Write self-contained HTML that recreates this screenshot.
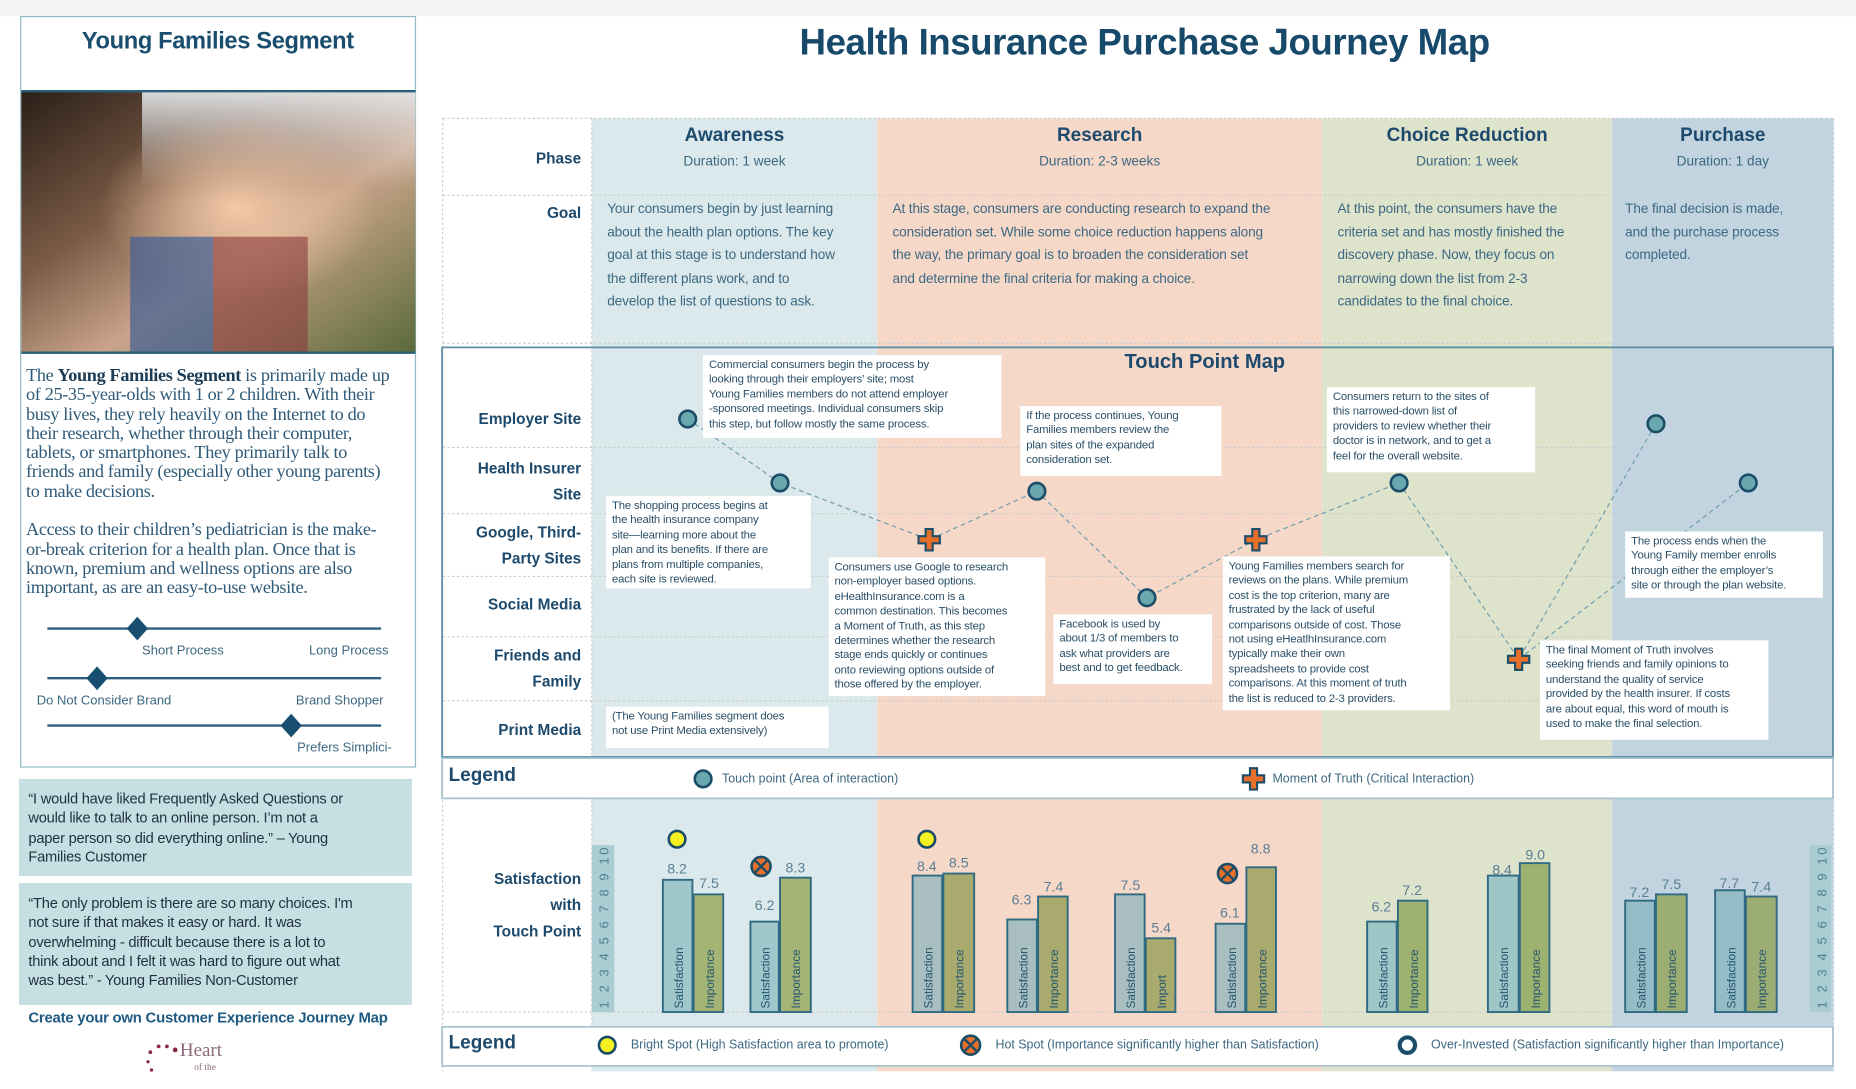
<!DOCTYPE html>
<html><head><meta charset="utf-8"><style>
*{margin:0;padding:0;box-sizing:border-box}
html,body{width:1856px;height:1088px;overflow:hidden;background:#fff}
#w{position:absolute;left:0;top:0;width:1568px;height:920px;transform:scale(1.18367,1.18367);transform-origin:0 0;font-family:"Liberation Sans",sans-serif}
.a{position:absolute;white-space:nowrap}
.lab{position:absolute;right:1077px;text-align:right;font-weight:bold;font-size:13px;color:#1d4a6c;line-height:22px}
.co{position:absolute;background:#fff;font-size:9.6px;line-height:12.4px;color:#2a4f68;padding:3px 5px;white-space:nowrap;letter-spacing:-0.15px}
.ph{position:absolute;text-align:center;color:#1d4a6c}
.ph b{display:block;font-size:16px;margin-top:6px}
.ph span{display:block;font-size:11.5px;color:#3c6882;margin-top:7px}
.goal{position:absolute;font-size:11.5px;line-height:19.5px;color:#3c6882;white-space:nowrap;letter-spacing:-0.1px}
.q{position:absolute;background:#c6dfe2;font-size:12.4px;line-height:16.3px;color:#1f3040;padding:8px 8px;white-space:nowrap;letter-spacing:-0.2px}
.sl{position:absolute;font-size:11px;color:#3c6882}
</style></head><body><div id="w">
<svg width="1568" height="920" style="position:absolute;left:0;top:0">
<defs>
<g id="cr"><path d="M-3,-9h6v6h6v6h-6v6h-6v-6h-6v-6h6z" fill="#e6702a" stroke="#1b4d69" stroke-width="1.8"/></g>
<linearGradient id="ph1" x1="0" y1="0" x2="1" y2="1"><stop offset="0" stop-color="#2a1f18"/><stop offset="0.35" stop-color="#7a5a45"/><stop offset="0.6" stop-color="#c9a48a"/><stop offset="1" stop-color="#5a6a3a"/></linearGradient>
<radialGradient id="ph2" cx="0.55" cy="0.45" r="0.35"><stop offset="0" stop-color="#f2c9a8"/><stop offset="1" stop-color="#f2c9a8" stop-opacity="0"/></radialGradient>
<linearGradient id="ph3" x1="0" y1="0" x2="0" y2="1"><stop offset="0" stop-color="#e8ecef" stop-opacity="0.9"/><stop offset="1" stop-color="#e8ecef" stop-opacity="0"/></linearGradient>
</defs>
<rect x="0" y="0" width="1568" height="14" fill="#f4f5f6"/>
<rect x="17.5" y="14" width="333.5" height="634" fill="none" stroke="#8fbac4" stroke-width="1"/>
<rect x="18" y="77" width="333" height="221" fill="url(#ph1)"/>
<rect x="120" y="77" width="231" height="80" fill="url(#ph3)"/>
<rect x="18" y="77" width="333" height="221" fill="url(#ph2)"/>
<rect x="110" y="200" width="70" height="98" fill="#3e5f96" opacity="0.7"/>
<rect x="180" y="200" width="80" height="98" fill="#8a3a3a" opacity="0.6"/>
<line x1="18" y1="77" x2="351" y2="77" stroke="#2a5f78" stroke-width="2"/>
<line x1="18" y1="298" x2="351" y2="298" stroke="#2a5f78" stroke-width="2"/>
<g stroke="#2c5f7e" stroke-width="2"><line x1="40" y1="531" x2="322" y2="531"/><line x1="40" y1="573" x2="322" y2="573"/><line x1="40" y1="613" x2="322" y2="613"/></g>
<g fill="#184f70"><polygon points="116,521 125,531 116,541 107,531"/><polygon points="82,563 91,573 82,583 73,573"/><polygon points="246,603 255,613 246,623 237,613"/></g>
<rect x="16" y="658" width="332" height="82" fill="#c6dfe2"/>
<rect x="16" y="746" width="332" height="103" fill="#c6dfe2"/>
<rect x="500" y="100" width="241" height="805" fill="#dbe9ec"/>
<rect x="741" y="100" width="376" height="805" fill="#f6d8c8"/>
<rect x="1117" y="100" width="245" height="805" fill="#dee3cc"/>
<rect x="1362" y="100" width="187" height="805" fill="#c1d4df"/>
<g stroke="#c9cccf" stroke-width="1" stroke-dasharray="2,2" fill="none">
<line x1="374" y1="100" x2="1549" y2="100"/><line x1="374" y1="165" x2="1549" y2="165"/><line x1="374" y1="290" x2="1549" y2="290"/>
<line x1="374" y1="378" x2="1549" y2="378"/><line x1="374" y1="434" x2="1549" y2="434"/><line x1="374" y1="487" x2="1549" y2="487"/><line x1="374" y1="538" x2="1549" y2="538"/><line x1="374" y1="592" x2="1549" y2="592"/>
<line x1="374" y1="855" x2="1549" y2="855"/>
<line x1="374" y1="100" x2="374" y2="905"/><line x1="500" y1="100" x2="500" y2="905"/><line x1="1549" y1="100" x2="1549" y2="905"/>
</g>
<rect x="373.5" y="293.5" width="1175" height="346" fill="none" stroke="#5c8ea6" stroke-width="1.5"/>
<rect x="373.5" y="640.5" width="1175" height="34" fill="#fff" stroke="#a9c3d0" stroke-width="1.5"/>
<rect x="373.5" y="867.5" width="1175" height="33" fill="#fff" stroke="#a9c3d0" stroke-width="1.5"/>
<polyline points="581,354 659,408 785,456 876,415 969,505 1061,456 1182,408 1283,557 1399,358" fill="none" stroke="#6e9faa" stroke-width="1" stroke-dasharray="4,3"/>
<line x1="1283" y1="557" x2="1477" y2="408" stroke="#6e9faa" stroke-width="1" stroke-dasharray="4,3"/>
<g fill="#6aa8b0" stroke="#1b4d69" stroke-width="2.2">
<circle cx="581" cy="354" r="7"/><circle cx="659" cy="408" r="7"/><circle cx="876" cy="415" r="7"/><circle cx="969" cy="505" r="7"/><circle cx="1182" cy="408" r="7"/><circle cx="1399" cy="358" r="7"/><circle cx="1477" cy="408" r="7"/>
<circle cx="594" cy="658" r="7"/>
</g>
<use href="#cr" x="785" y="456"/><use href="#cr" x="1061" y="456"/><use href="#cr" x="1283" y="557"/><use href="#cr" x="1059" y="658"/>
<rect x="500" y="714" width="19" height="141" fill="#a9cdd3"/>
<rect x="1529" y="714" width="18" height="141" fill="#a9cdd3"/>
<g stroke="#2f6a82" stroke-width="1.6">
<rect x="560" y="743.3" width="25" height="111.7" fill="#9fc7cc"/><rect x="586" y="755.6" width="25" height="99.4" fill="#a4b474"/>
<rect x="634" y="778.6" width="24" height="76.4" fill="#9fc7cc"/><rect x="659" y="741.5" width="26" height="113.5" fill="#a4b474"/>
<rect x="771" y="739.7" width="25" height="115.3" fill="#a8bec0"/><rect x="797" y="738" width="26" height="117" fill="#a9ab6e"/>
<rect x="851" y="776.8" width="25" height="78.2" fill="#a8bec0"/><rect x="877" y="757.4" width="25" height="97.6" fill="#a9ab6e"/>
<rect x="942" y="755.6" width="25" height="99.4" fill="#a8bec0"/><rect x="968" y="792.7" width="25" height="62.3" fill="#a9ab6e"/>
<rect x="1027" y="780.4" width="25" height="74.6" fill="#a8bec0"/><rect x="1053" y="732.7" width="25" height="122.3" fill="#a9ab6e"/>
<rect x="1155" y="778.6" width="25" height="76.4" fill="#9fc6c7"/><rect x="1181" y="760.9" width="25" height="94.1" fill="#9db26f"/>
<rect x="1257" y="739.7" width="26" height="115.3" fill="#9fc6c7"/><rect x="1284" y="729.2" width="25" height="125.8" fill="#9db26f"/>
<rect x="1373" y="760.9" width="25" height="94.1" fill="#95bcc6"/><rect x="1399" y="755.6" width="26" height="99.4" fill="#9bad73"/>
<rect x="1449" y="752.1" width="25" height="102.9" fill="#95bcc6"/><rect x="1475" y="757.4" width="26" height="97.6" fill="#9bad73"/>
</g>
<g fill="#5a7f95" font-family="Liberation Sans" font-size="12" text-anchor="middle">
<text x="572" y="738">8.2</text><text x="599" y="750">7.5</text><text x="646" y="769">6.2</text><text x="672" y="737">8.3</text>
<text x="783" y="736">8.4</text><text x="810" y="733">8.5</text><text x="863" y="764">6.3</text><text x="890" y="753">7.4</text>
<text x="955" y="752">7.5</text><text x="981" y="788">5.4</text><text x="1039" y="775">6.1</text><text x="1065" y="721">8.8</text>
<text x="1167" y="770">6.2</text><text x="1193" y="756">7.2</text><text x="1269" y="739">8.4</text><text x="1297" y="726">9.0</text>
<text x="1385" y="758">7.2</text><text x="1412" y="751">7.5</text><text x="1461" y="750">7.7</text><text x="1488" y="753">7.4</text>
</g>
<g fill="#24566f" font-family="Liberation Sans" font-size="10">
<text transform="translate(577,852) rotate(-90)">Satisfaction</text><text transform="translate(603,852) rotate(-90)">Importance</text>
<text transform="translate(650,852) rotate(-90)">Satisfaction</text><text transform="translate(676,852) rotate(-90)">Importance</text>
<text transform="translate(788,852) rotate(-90)">Satisfaction</text><text transform="translate(814,852) rotate(-90)">Importance</text>
<text transform="translate(868,852) rotate(-90)">Satisfaction</text><text transform="translate(894,852) rotate(-90)">Importance</text>
<text transform="translate(959,852) rotate(-90)">Satisfaction</text><text transform="translate(985,852) rotate(-90)">Import</text>
<text transform="translate(1044,852) rotate(-90)">Satisfaction</text><text transform="translate(1070,852) rotate(-90)">Importance</text>
<text transform="translate(1172,852) rotate(-90)">Satisfaction</text><text transform="translate(1198,852) rotate(-90)">Importance</text>
<text transform="translate(1274,852) rotate(-90)">Satisfaction</text><text transform="translate(1301,852) rotate(-90)">Importance</text>
<text transform="translate(1390,852) rotate(-90)">Satisfaction</text><text transform="translate(1416,852) rotate(-90)">Importance</text>
<text transform="translate(1466,852) rotate(-90)">Satisfaction</text><text transform="translate(1492,852) rotate(-90)">Importance</text>
<text transform="translate(514,852) rotate(-90)" fill="#4d7f92" font-size="11" textLength="136" lengthAdjust="spacing">1 2 3 4 5 6 7 8 9 10</text>
<text transform="translate(1543,852) rotate(-90)" fill="#4d7f92" font-size="11" textLength="136" lengthAdjust="spacing">1 2 3 4 5 6 7 8 9 10</text>
</g>
<g stroke="#1b4d69" stroke-width="2.2"><circle cx="572" cy="709" r="7" fill="#f5f020"/><circle cx="783" cy="709" r="7" fill="#f5f020"/><circle cx="513" cy="883" r="7" fill="#f5f020"/>
<circle cx="643" cy="732" r="8" fill="#e6702a"/><circle cx="1037" cy="738" r="8" fill="#e6702a"/><circle cx="820" cy="883" r="8" fill="#e6702a"/>
<circle cx="1189" cy="883" r="6.5" fill="#fff" stroke-width="3.5"/></g>
<g stroke="#1b4d69" stroke-width="2"><path d="M638,727l10,10M648,727l-10,10"/><path d="M1032,733l10,10M1042,733l-10,10"/><path d="M815,878l10,10M825,878l-10,10"/></g>
<g fill="#8a2a3e"><circle cx="127" cy="889" r="1.6"/><circle cx="134" cy="884" r="1.6"/><circle cx="141" cy="884" r="1.6"/><circle cx="148" cy="887" r="2"/><circle cx="125" cy="897" r="1.4"/><circle cx="128" cy="904" r="1.4"/></g>
</svg>

<div class="a" style="left:17px;width:334px;top:24px;text-align:center;font-weight:bold;font-size:20px;color:#1a4e6e;letter-spacing:-0.3px">Young Families Segment</div>
<div class="a" style="left:22px;top:310px;font-family:'Liberation Serif',serif;font-size:15.4px;line-height:16.3px;color:#2f5a78;letter-spacing:-0.3px">The <b style="color:#1c3c55">Young Families Segment</b> is primarily made up<br>of 25-35-year-olds with 1 or 2 children. With their<br>busy lives, they rely heavily on the Internet to do<br>their research, whether through their computer,<br>tablets, or smartphones.  They primarily talk to<br>friends and family (especially other young parents)<br>to make decisions.<br><br>Access to their children’s pediatrician is the make-<br>or-break criterion for a health plan.  Once that is<br>known, premium and wellness options are also<br>important, as are an easy-to-use website.</div>
<div class="sl" style="left:120px;top:544px">Short Process</div>
<div class="sl" style="left:261px;top:544px">Long Process</div>
<div class="sl" style="left:31px;top:586px">Do Not Consider Brand</div>
<div class="sl" style="left:250px;top:586px">Brand Shopper</div>
<div class="sl" style="left:251px;top:626px">Prefers Simplici-</div>
<div class="q" style="left:16px;top:659px">“I would have liked Frequently Asked Questions or<br>would like to talk to an online person.  I’m not a<br>paper person so did everything online.” – Young<br>Families Customer</div>
<div class="q" style="left:16px;top:747px">“The only problem is there are so many choices. I'm<br>not sure if that makes it easy or hard. It was<br>overwhelming - difficult because there is a lot to<br>think about and I felt it was hard to figure out what<br>was best.” - Young Families Non-Customer</div>
<div class="a" style="left:24px;top:853px;font-weight:bold;font-size:12.6px;color:#1e5a82;letter-spacing:-0.2px">Create your own Customer Experience Journey Map</div>
<div class="a" style="left:152px;top:879px;font-family:'Liberation Serif',serif;font-size:16px;color:#8a6a7a">Heart</div>
<div class="a" style="left:164px;top:897px;font-family:'Liberation Serif',serif;font-size:8px;color:#8a6a7a">of the</div>

<div class="a" style="left:560px;width:814px;top:18px;text-align:center;font-weight:bold;font-size:31px;color:#17496b;letter-spacing:-0.4px">Health Insurance Purchase Journey Map</div>

<div class="lab" style="top:123px">Phase</div>
<div class="lab" style="top:169px">Goal</div>
<div class="lab" style="top:343px">Employer Site</div>
<div class="lab" style="top:385px">Health Insurer<br>Site</div>
<div class="lab" style="top:439px">Google, Third-<br>Party Sites</div>
<div class="lab" style="top:500px">Social Media</div>
<div class="lab" style="top:543px">Friends and<br>Family</div>
<div class="lab" style="top:606px">Print Media</div>
<div class="lab" style="top:732px">Satisfaction<br>with<br>Touch Point</div>

<div class="ph" style="left:500px;width:241px;top:100px"><b>Awareness</b><span>Duration: 1 week</span></div>
<div class="ph" style="left:741px;width:376px;top:100px"><b>Research</b><span>Duration: 2-3 weeks</span></div>
<div class="ph" style="left:1117px;width:245px;top:100px"><b>Choice Reduction</b><span>Duration: 1 week</span></div>
<div class="ph" style="left:1362px;width:187px;top:100px"><b>Purchase</b><span>Duration: 1 day</span></div>

<div class="goal" style="left:513px;top:168px">Your consumers begin by just learning<br>about the health plan options. The key<br>goal at this stage is to understand how<br>the different plans work, and to<br>develop the list of questions to ask.</div>
<div class="goal" style="left:754px;top:168px">At this stage, consumers are conducting research to expand the<br>consideration set.  While some choice reduction happens along<br>the way, the primary goal is to broaden the consideration set<br>and determine the final criteria for making a choice.</div>
<div class="goal" style="left:1130px;top:168px">At this point, the consumers have the<br>criteria set and has mostly finished the<br>discovery phase.  Now, they focus on<br>narrowing down the list from 2-3<br>candidates to the final choice.</div>
<div class="goal" style="left:1373px;top:168px">The final decision is made,<br>and the purchase process<br>completed.</div>

<div class="a" style="left:950px;top:296px;font-weight:bold;font-size:17px;color:#1d4a6c">Touch Point Map</div>

<div class="co" style="left:594px;top:300px;width:252px;height:70px">Commercial consumers begin the process by<br>looking through their employers’ site; most<br>Young Families members do not attend employer<br>-sponsored meetings.  Individual consumers skip<br>this step, but follow mostly the same process.</div>
<div class="co" style="left:862px;top:343px;width:170px;height:59px">If the process continues, Young<br>Families members review the<br>plan sites of the expanded<br>consideration set.</div>
<div class="co" style="left:1121px;top:327px;width:176px;height:72px">Consumers return to the sites of<br>this narrowed-down list of<br>providers to review whether their<br>doctor is in network, and to get a<br>feel for the overall website.</div>
<div class="co" style="left:512px;top:419px;width:173px;height:78px">The shopping process begins at<br>the health insurance company<br>site—learning more about the<br>plan and its benefits.  If there are<br>plans from multiple companies,<br>each site is reviewed.</div>
<div class="co" style="left:700px;top:471px;width:183px;height:117px">Consumers use Google to research<br>non-employer based options.<br>eHealthInsurance.com is a<br>common destination. This becomes<br>a Moment of Truth, as this step<br>determines whether the research<br>stage ends quickly or continues<br>onto reviewing options outside of<br>those offered by the employer.</div>
<div class="co" style="left:890px;top:519px;width:134px;height:59px">Facebook is used by<br>about 1/3 of members to<br>ask what providers are<br>best and to get feedback.</div>
<div class="co" style="left:1033px;top:470px;width:192px;height:130px">Young Families members search for<br>reviews on the plans. While premium<br>cost is the top criterion, many are<br>frustrated by the lack of useful<br>comparisons outside of cost.  Those<br>not using eHeatlhInsurance.com<br>typically make their own<br>spreadsheets to provide cost<br>comparisons. At this moment of truth<br>the list is reduced to 2-3 providers.</div>
<div class="co" style="left:1301px;top:541px;width:193px;height:84px">The final Moment of Truth involves<br>seeking friends and family opinions to<br>understand the quality of service<br>provided by the health insurer.  If costs<br>are about equal, this word of mouth is<br>used to make the final selection.</div>
<div class="co" style="left:1373px;top:449px;width:167px;height:56px">The process ends when the<br>Young Family member enrolls<br>through either the employer’s<br>site or through the plan website.</div>
<div class="co" style="left:512px;top:597px;width:188px;height:35px">(The Young Families segment does<br>not use Print Media extensively)</div>

<div class="a" style="left:379px;top:647px;font-weight:bold;font-size:16px;color:#1d4a6c">Legend</div>
<div class="a" style="left:610px;top:652px;font-size:10.5px;color:#3c6882">Touch point (Area of interaction)</div>
<div class="a" style="left:1075px;top:652px;font-size:10.5px;color:#3c6882">Moment of Truth (Critical Interaction)</div>
<div class="a" style="left:379px;top:873px;font-weight:bold;font-size:16px;color:#1d4a6c">Legend</div>
<div class="a" style="left:533px;top:877px;font-size:10.5px;color:#3c6882">Bright Spot (High Satisfaction area to promote)</div>
<div class="a" style="left:841px;top:877px;font-size:10.5px;color:#3c6882">Hot Spot (Importance significantly higher than Satisfaction)</div>
<div class="a" style="left:1209px;top:877px;font-size:10.5px;color:#3c6882">Over-Invested (Satisfaction significantly higher than Importance)</div>
</div></body></html>
